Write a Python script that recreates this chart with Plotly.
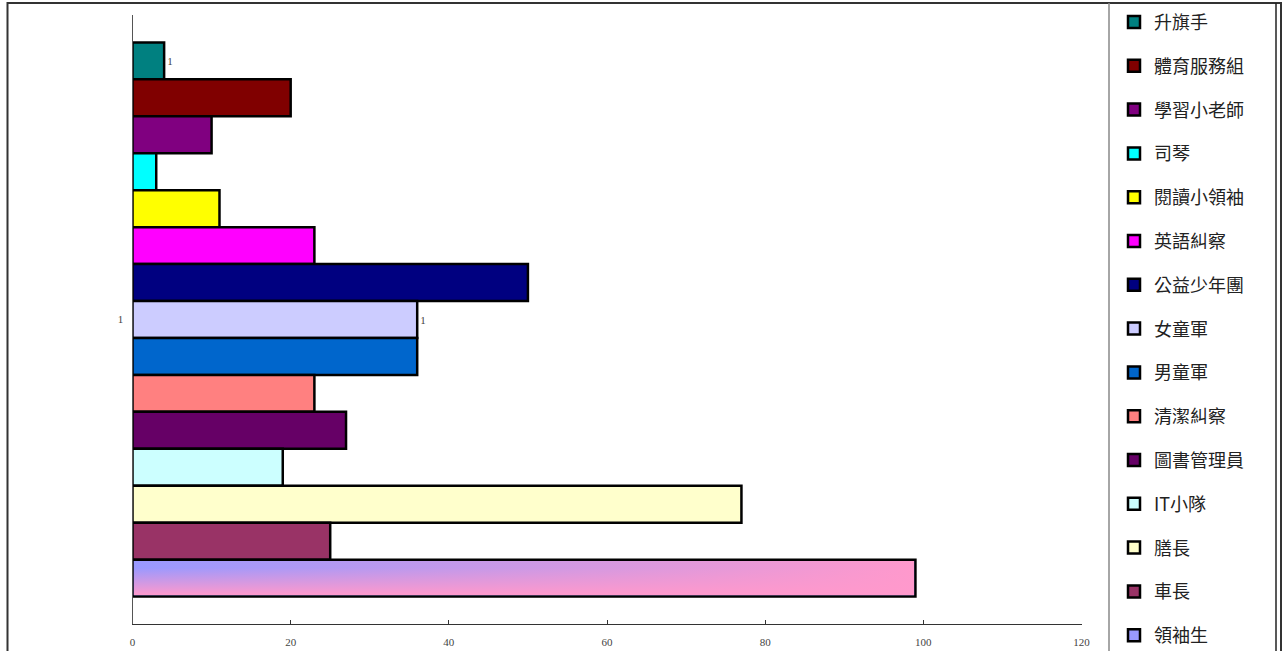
import base64
import plotly.graph_objects as go

# ---------------- data ----------------
categories = ["1"]
series_names = ["升旗手", "體育服務組", "學習小老師", "司琴", "閱讀小領袖", "英語糾察",
                "公益少年團", "女童軍", "男童軍", "清潔糾察", "圖書管理員", "IT小隊",
                "膳長", "車長", "領袖生"]
series_values = [4, 20, 10, 3, 11, 23, 50, 36, 36, 23, 27, 19, 77, 25, 99]
series_colors = ["#008080", "#800000", "#800080", "#00FFFF", "#FFFF00", "#FF00FF",
                 "#000080", "#CCCCFF", "#0066CC", "#FF8080", "#660066", "#CCFFFF",
                 "#FFFFCC", "#993366", "#9999FF"]
labelled_series = ["升旗手", "女童軍"]
gradient_series = "領袖生"
gradient_colors = ["#9999FF", "#FF99CC"]
x_ticks = [0, 20, 40, 60, 80, 100, 120]
x_range = [0, 120]

# ---------------- layout geometry ----------------
W, H = 1285, 651
plot_left, plot_right, plot_top, plot_bottom = 132.5, 1081.5, 15, 624
bar_gap = 0.09
serif = "Liberation Serif"
cjk = "Noto Sans CJK TC"

fig = go.Figure()
for name, val, col in zip(series_names, series_values, series_colors):
    show_text = name in labelled_series
    fig.add_trace(go.Bar(
        y=categories, x=[val], name=name, orientation="h",
        marker=dict(color=col, line=dict(color="#000000", width=2.5)),
        text=categories if show_text else None,
        textposition="outside" if show_text else "none",
        textfont=dict(family=serif, size=11, color="#444444"),
        cliponaxis=False,
        legendgroup=name,
    ))

# gradient fill for the gradient series, placed from the same bar geometry
n = len(series_names)
gi = series_names.index(gradient_series)
bw_units = (1 - bar_gap) / n
y_top = -0.5 + bar_gap / 2 + gi * bw_units
px_per_x = (plot_right - plot_left) / (x_range[1] - x_range[0])
px_per_y = (plot_bottom - plot_top) / 1.0
inset = 1.3
svg = f'''<svg xmlns="http://www.w3.org/2000/svg" width="200" height="20" viewBox="0 0 200 20" preserveAspectRatio="none">
<defs>
<linearGradient id="h" x1="0" y1="0" x2="1" y2="0"><stop offset="0" stop-color="{gradient_colors[0]}"/><stop offset="1" stop-color="{gradient_colors[1]}"/></linearGradient>
<linearGradient id="v" x1="0" y1="0" x2="0" y2="1"><stop offset="0.2" stop-color="{gradient_colors[1]}" stop-opacity="0"/><stop offset="1" stop-color="{gradient_colors[1]}" stop-opacity="1"/></linearGradient>
</defs>
<rect width="200" height="20" fill="url(#h)"/><rect width="200" height="20" fill="url(#v)"/></svg>'''
src = "data:image/svg+xml;base64," + base64.b64encode(svg.encode("utf-8")).decode("ascii")
gval = series_values[gi]
fig.add_layout_image(dict(
    source=src, xref="x", yref="y",
    x=inset / px_per_x, y=y_top + inset / px_per_y,
    sizex=gval - 2 * inset / px_per_x, sizey=bw_units - 2 * inset / px_per_y,
    xanchor="left", yanchor="top", sizing="stretch", layer="above",
))

# frame and legend box
frame_col = "#333333"
shapes = [
    dict(type="rect", xref="paper", yref="paper", x0=7.5 / W, x1=1281 / W,
         y0=-0.1, y1=1 - 3 / H, line=dict(color=frame_col, width=2)),
    dict(type="line", xref="paper", yref="paper", x0=1109 / W, x1=1109 / W,
         y0=-0.1, y1=1 - 3 / H, line=dict(color="#888888", width=1.5)),
    dict(type="line", xref="paper", yref="paper", x0=1276 / W, x1=1276 / W,
         y0=-0.1, y1=1 - 3 / H, line=dict(color="#222222", width=1.5)),
]

fig.update_layout(
    width=W, height=H,
    margin=dict(l=0, r=0, t=0, b=0, autoexpand=False),
    paper_bgcolor="white", plot_bgcolor="white",
    barmode="group", bargap=bar_gap, bargroupgap=0,
    shapes=shapes,
    showlegend=True,
    legend=dict(
        x=1114 / W, y=1 - 3.8 / H, xanchor="left", yanchor="top",
        traceorder="grouped", tracegroupgap=17.4,
        font=dict(family=cjk, size=18, color="#222222"),
        bgcolor="rgba(0,0,0,0)", borderwidth=0,
    ),
    xaxis=dict(
        domain=[plot_left / W, plot_right / W], range=x_range,
        tickvals=x_ticks, ticks="inside", ticklen=4, tickcolor="#333333",
        showline=True, linecolor="#333333", linewidth=1,
        showgrid=False, zeroline=False,
        tickfont=dict(family=serif, size=11, color="#444444"),
        ticklabelstandoff=8,
    ),
    yaxis=dict(
        domain=[1 - plot_bottom / H, 1 - plot_top / H],
        type="category", range=[0.5, -0.5],
        ticks="inside", tickson="boundaries", ticklen=5, tickcolor="#555555",
        showline=True, linecolor="#555555", linewidth=1,
        showgrid=False, zeroline=False,
        tickfont=dict(family=serif, size=11, color="#444444"),
        ticklabelstandoff=6,
    ),
)

fig.write_html(
    "out.html",
    config={"displayModeBar": False},
    post_script="document.body.style.margin='0';document.body.style.overflow='hidden';",
)
